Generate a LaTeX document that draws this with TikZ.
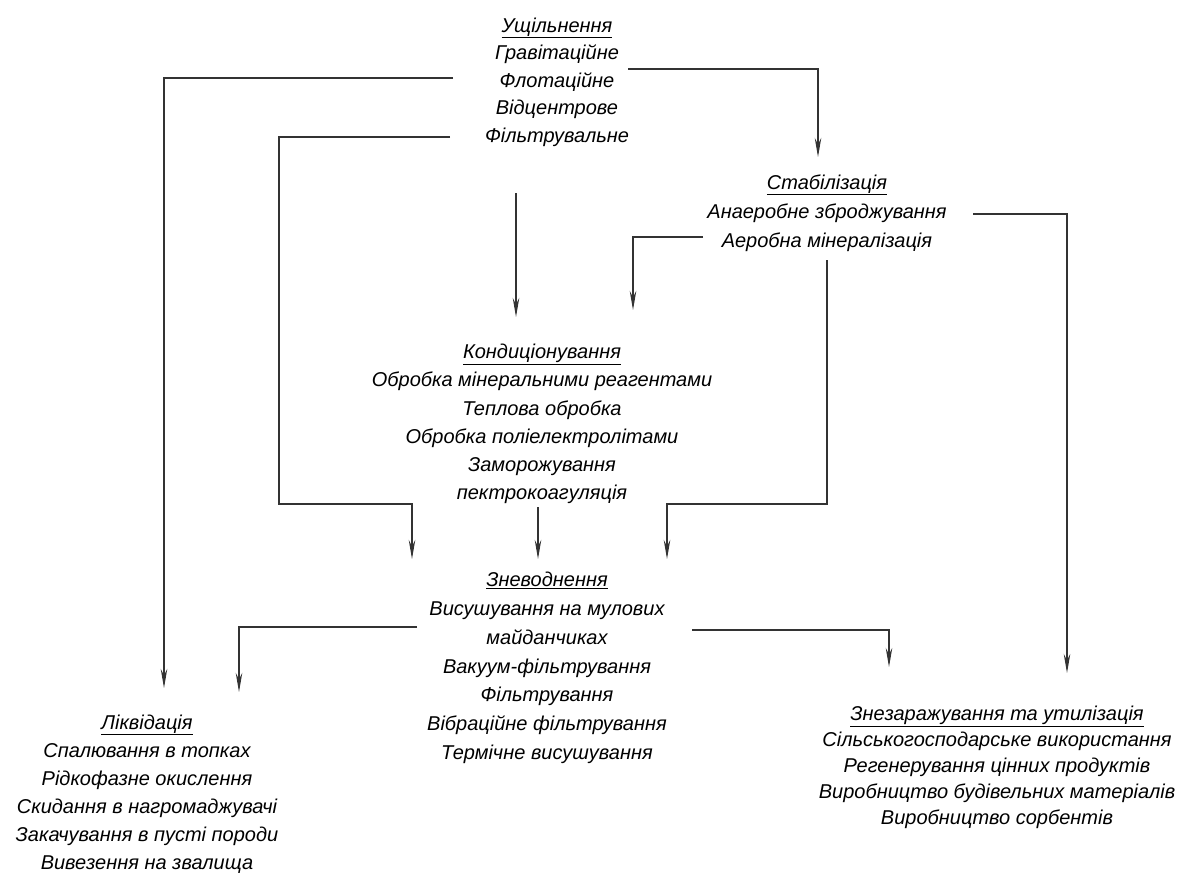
\documentclass[tikz,border=0pt]{standalone}
\usepackage{fontspec}
\setmainfont{Liberation Sans}
\usetikzlibrary{arrows.meta}
\begin{document}
\begin{tikzpicture}[x=1pt,y=-1pt,
  blk/.style={align=center,inner sep=0pt,font=\itshape\fontsize{20}{#1}\selectfont},
  blk/.default=28,
  wire/.style={line width=1.1pt,draw=black!80},
  arr/.style={wire,-{Stealth[length=19pt,width=6.5pt]}}]
\useasboundingbox (0,0) rectangle (1191,875);

% process blocks
\node[blk=27.5] (thick) at (557,82) {\underline{Ущільнення}\\Гравітаційне\\Флотаційне\\Відцентрове\\Фільтрувальне};
\node[blk=29] (stab) at (827,213) {\underline{Стабілізація}\\Анаеробне зброджування\\Аеробна мінералізація};
\node[blk=28.2] (cond) at (542,424) {\underline{Кондиціонування}\\Обробка мінеральними реагентами\\Теплова обробка\\Обробка поліелектролітами\\Заморожування\\пектрокоагуляція};
\node[blk=28.8] (dew) at (547,668) {\underline{Зневоднення}\\Висушування на мулових\\майданчиках\\Вакуум-фільтрування\\Фільтрування\\Вібраційне фільтрування\\Термічне висушування};
\node[blk=28] (liq) at (147,794) {\underline{Ліквідація}\\Спалювання в топках\\Рідкофазне окислення\\Скидання в нагромаджувачі\\Закачування в пусті породи\\Вивезення на звалища};
\node[blk=26] (dis) at (997,767) {\underline{Знезаражування та утилізація}\\Сільськогосподарське використання\\Регенерування цінних продуктів\\Виробництво будівельних матеріалів\\Виробництво сорбентів};

% connector ends
\coordinate (t-a) at (453,78);
\coordinate (t-b) at (628,69);
\coordinate (t-c) at (450,137);
\coordinate (t-d) at (516,193);
\coordinate (s-a) at (703,237);
\coordinate (s-b) at (973,214);
\coordinate (s-c) at (827,260);
\coordinate (c-a) at (538,507);
\coordinate (d-a) at (417,627);
\coordinate (d-b) at (692,630);

\coordinate (liq-in1) at (164,688);
\coordinate (liq-in2) at (239,692);
\coordinate (stab-in) at (818,157);
\coordinate (cond-in1) at (516,317);
\coordinate (cond-in2) at (633,310);
\coordinate (dew-in1) at (412,559);
\coordinate (dew-in2) at (538,559);
\coordinate (dew-in3) at (667,559);
\coordinate (dis-in1) at (889,667);
\coordinate (dis-in2) at (1067,673);

% connectors
\draw[arr] (t-a) -| (liq-in1);
\draw[arr] (t-b) -| (stab-in);
\draw[arr] (t-c) -- (279,137) |- (412,504) -- (dew-in1);
\draw[arr] (t-d) -- (cond-in1);
\draw[arr] (s-a) -| (cond-in2);
\draw[arr] (s-b) -| (dis-in2);
\draw[arr] (s-c) |- (667,504) -- (dew-in3);
\draw[arr] (c-a) -- (dew-in2);
\draw[arr] (d-a) -| (liq-in2);
\draw[arr] (d-b) -| (dis-in1);
\end{tikzpicture}
\end{document}
